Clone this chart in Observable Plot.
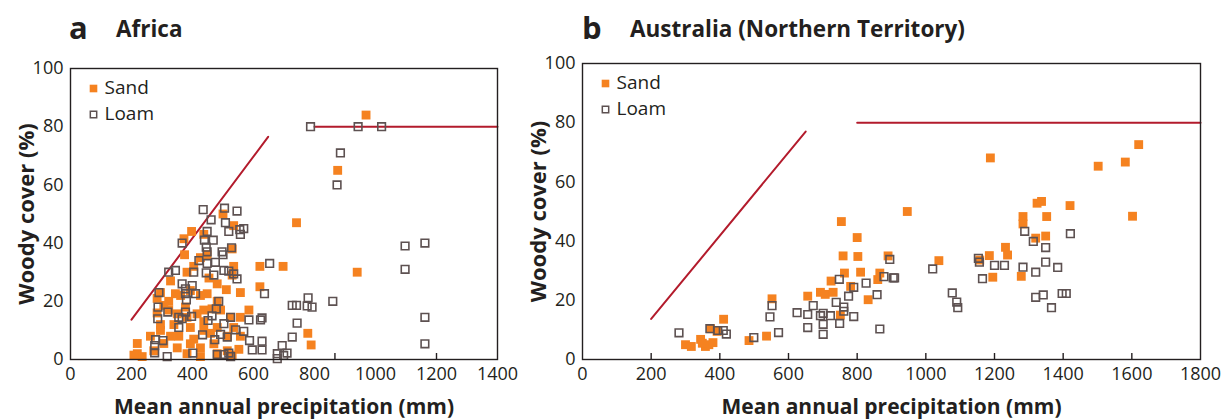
<!DOCTYPE html>
<html>
<head>
<meta charset="utf-8">
<script src="https://cdn.jsdelivr.net/npm/d3@7"></script>
<script src="https://cdn.jsdelivr.net/npm/@observablehq/plot@0.6"></script>
<style>
  body { margin: 0; background: #fff; }
  #wrap { position: relative; width: 1221px; height: 419px; overflow: hidden; font-family: "Open Sans", sans-serif; color: #231f20; }
  .panel { position: absolute; top: 0; }
  .panel svg { position: absolute; top: 40px; left: 0; overflow: visible; }
  .lbl { position: absolute; font-weight: 700; white-space: nowrap; }
  .letter { font-size: 31px; top: 6px; }
  .name { font-size: 22.5px; top: 13px; }
  svg [aria-label="x-axis label"] text { font-weight: 700; font-size: 21px; }
  svg [aria-label="y-axis label"] text { font-weight: 700; font-size: 22px; }
</style>
</head>
<body>
<div id="wrap">
  <div class="panel" id="pa" style="left:0;width:520px;height:419px;">
    <div class="lbl letter" style="left:69px;">a</div>
    <div class="lbl name" style="left:116px;">Africa</div>
  </div>
  <div class="panel" id="pb" style="left:520px;width:701px;height:419px;">
    <div class="lbl letter" style="left:62px;">b</div>
    <div class="lbl name" style="left:110px;">Australia (Northern Territory)</div>
  </div>
</div>
<script>
// ---------- data (mean annual precipitation mm, woody cover %) ----------
const africaSand = [
  [500,50],[397,44],[372,41.5],[437,43],[535,46],[530,38],[374,36],[426,35],[448,36],[535,32],
  [530,29],[382,30],[328,27],[454,28],[481,26],[404,32],[621,32],[697,32],[621,25],[511,24],
  [557,23],[284,21],[322,20],[361,22],[426,22],[481,20],[284,16],[322,17],[377,18],[437,17],
  [492,17],[585,17],[525,14.5],[557,14.5],[295,12],[339,12],[393,11],[437,13],[328,8],[262,8],
  [355,8],[404,7],[459,9],[514,8],[557,8],[219,5.5],[350,4],[426,4],[514,3],[552,3.5],
  [219,2],[235,1],[208,1.5],[382,2],[426,1],[481,2],[530,1.5],[306,5.5],[273,3],
  [295,23],[306,18.6],[344,22.6],[393,23.7],[448,22.6],[415,15.7],[464,17.4],[350,15.7],[295,10],
  [382,14.5],[437,10],[481,11],[535,11],[393,5.4],[470,5.4],
  [741,47],[969,84],[876,65],[940,30],[778,9],[789,5]
];
const africaLoam = [
  [435,51.5],[505,52],[546,51],[461,48],[508,47],[448,44],[519,44],[555,44.6],[568,45],[557,43],
  [366,40],[439,41],[468,41],[445,38.6],[448,37],[497,37],[528,38.4],[500,36],[421,34],[448,33],
  [475,33.4],[404,30],[445,29.8],[470,29],[503,30.6],[519,30.4],[535,29.4],[546,27.7],[322,30],[344,30.6],
  [366,26],[377,24.3],[399,25.4],[410,22.6],[290,23],[377,22.6],[380,20.5],[287,18],[319,16.3],[355,14.5],
  [377,16.3],[397,14.8],[366,14],[286,14],[486,20],[478,17.4],[464,15],[451,13.4],[525,14.5],[503,12.3],
  [568,9.7],[585,13.6],[623,13.6],[628,14.3],[636,22.6],[653,33],[355,11],[433,8.5],[473,6.8],[492,8.6],
  [514,7.7],[541,10.2],[587,6.5],[628,6.3],[596,3.3],[628,3.3],[279,6.8],[276,4.8],[276,2.3],[303,6.5],
  [317,1],[401,2.2],[481,1.7],[503,1.7],[519,2.2],[525,1],[678,0.3],[694,4.8],[710,2.2],[727,7.7],
  [743,12.5],[727,18.6],[741,18.6],[779,21.2],[776,18.4],[792,18],[860,20],[699,1.4],[678,2],
  [787,80],[943,80],[1020,80],[885,71],[874,60],[1097,39],[1162,40],[1097,31],[1162,14.5],[1162,5.4]
];
const australiaSand = [
  [946,50],[754,46.6],[800,41.2],[759,35],[802,34.8],[890,35],[763,29.2],[810,29.5],[866,29.2],[860,27],
  [724,26.5],[781,24.7],[693,22.7],[707,22],[730,22.7],[832,20.2],[552,20.5],[656,21.4],[411,13.6],[373,10.4],
  [392,9.5],[751,15],[344,6.8],[300,5],[317,4.4],[358,4.4],[368,5],[380,5.7],[349,5.5],[485,6.4],
  [536,7.9],[1038,33.4],
  [1620,72.6],[1502,65.3],[1581,66.7],[1188,68.1],[1324,52.8],[1337,53.4],[1420,52],[1352,48.3],[1602,48.4],
  [1283,48.3],[1283,45.8],[1349,41.7],[1320,41],[1232,37.9],[1238,35.3],[1185,35.1],[1157,33.6],[1195,27.8],[1278,28.1]
];
const australiaLoam = [
  [281,9],[371,10.4],[410,9.8],[419,8.6],[394,9.8],[499,7.4],[571,9.1],[546,14.4],[552,18.2],[625,15.8],
  [656,15.2],[656,10.8],[672,18.2],[693,14.8],[701,15.6],[701,11.9],[701,8.5],[722,14.8],[739,19.3],[748,27.1],
  [749,12.2],[761,17.7],[761,16.3],[775,21.4],[790,24.4],[790,14.5],[826,25.8],[858,21.9],[866,10.3],[878,28],
  [905,27.6],[909,27.6],[895,33.8],[1020,30.6],
  [1288,43.3],[1421,42.5],[1313,39.9],[1349,37.8],[1153,34.2],[1156,32.9],[1200,31.8],[1229,31.8],[1283,31.2],[1320,29.5],
  [1349,32.9],[1384,31.1],[1165,27.3],[1077,22.5],[1090,19.4],[1093,17.5],[1320,21],[1342,21.8],[1366,17.5],[1397,22.3],[1409,22.3]
];
// reference lines (red)
const africaRise = [[200,13.7],[648,76.5]];
const africaCap = [[800,80],[1400,80]];
const australiaRise = [[200,13.7],[650,77]];
const australiaCap = [[800,80],[1800,80]];
// tick labels and tick marks
const africaXLabels = [0,200,400,600,800,1000,1200,1400];
const africaXMarks = [200,533,867,1200];
const australiaXLabels = [0,200,400,600,800,1000,1200,1400,1600,1800];
const australiaXMarks = [200,400,600,800,1000,1200,1400,1600];
const yLabels = [0,20,40,60,80,100];
const legendItems = ["Sand","Loam"];

const ORANGE = "#f58220", LOAM = "#5d5151", RED = "#b31b2c", INK = "#231f20";

function panel({width, marginLeft, marginRight, marginTop, marginBottom, xmax, xLabels, xMarks, sand, loam, rise, cap}) {
  const height = 379;
  const frameH = height - marginTop - marginBottom;
  return Plot.plot({
    width, height, marginLeft, marginRight, marginTop, marginBottom,
    style: {fontFamily: '"Open Sans", sans-serif', fontSize: "18px", color: INK, background: "transparent", overflow: "visible"},
    x: {domain: [0, xmax]},
    y: {domain: [0, 100]},
    marks: [
      Plot.axisX(xLabels, {tickSize: 0, tickPadding: 8, tickFormat: d => String(d), label: "Mean annual precipitation (mm)", labelAnchor: "center", labelArrow: "none", labelOffset: 54}),
      Plot.axisY(yLabels, {tickSize: 0, tickPadding: 7, tickFormat: d => String(d), label: "Woody cover (%)", labelAnchor: "center", labelArrow: "none", labelOffset: 52}),
      Plot.tickX(xMarks, {x: d => d, insetTop: frameH - 6, stroke: INK, strokeWidth: 1.4}),
      Plot.line(rise, {x: d => d[0], y: d => d[1], stroke: RED, strokeWidth: 2}),
      Plot.line(cap, {x: d => d[0], y: d => d[1], stroke: RED, strokeWidth: 2}),
      Plot.dot(sand, {x: d => d[0], y: d => d[1], symbol: "square", r: 5, fill: ORANGE, stroke: null}),
      Plot.dot(loam, {x: d => d[0], y: d => d[1], symbol: "square", r: 4.3, fill: "none", stroke: LOAM, strokeWidth: 1.6}),
      Plot.dot([legendItems[0]], {frameAnchor: "top-left", dx: 23, dy: 20, symbol: "square", r: 4.3, fill: ORANGE}),
      Plot.dot([legendItems[1]], {frameAnchor: "top-left", dx: 23, dy: 46, symbol: "square", r: 3.6, fill: "none", stroke: LOAM, strokeWidth: 1.5}),
      Plot.text([legendItems[0]], {text: d => d, frameAnchor: "top-left", dx: 34, dy: 19, textAnchor: "start", lineAnchor: "middle", fontSize: 19, fill: INK}),
      Plot.text([legendItems[1]], {text: d => d, frameAnchor: "top-left", dx: 34, dy: 45, textAnchor: "start", lineAnchor: "middle", fontSize: 19, fill: INK}),
      Plot.frame({stroke: INK, strokeWidth: 1.4})
    ]
  });
}

const a = panel({width: 520, marginLeft: 70, marginRight: 23, marginTop: 28, marginBottom: 60, xmax: 1400,
  xLabels: africaXLabels, xMarks: africaXMarks, sand: africaSand, loam: africaLoam, rise: africaRise, cap: africaCap});
const b = panel({width: 701, marginLeft: 62, marginRight: 21, marginTop: 23, marginBottom: 60, xmax: 1800,
  xLabels: australiaXLabels, xMarks: australiaXMarks, sand: australiaSand, loam: australiaLoam, rise: australiaRise, cap: australiaCap});

document.getElementById("pa").appendChild(a);
document.getElementById("pb").appendChild(b);
</script>
</body>
</html>
